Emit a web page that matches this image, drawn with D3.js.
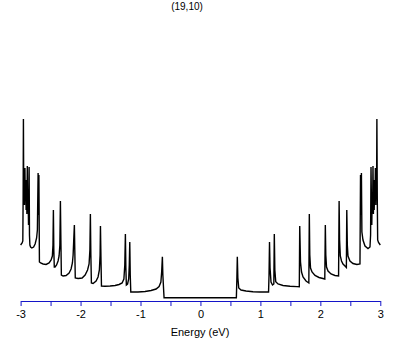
<!DOCTYPE html>
<html>
<head>
<meta charset="utf-8">
<script src="https://cdn.jsdelivr.net/npm/d3@7"></script>
<style>
  body { margin: 0; background: #fff; }
  text { font-family: "Liberation Sans", Arial, sans-serif; }
</style>
</head>
<body>
<div id="chart"></div>
<script>
// chart texts
var title = "(19,10)";
var xLabel = "Energy (eV)";
var xTicks = [-3, -2.5, -2, -1.5, -1, -0.5, 0, 0.5, 1, 1.5, 2, 2.5, 3];
var xLabelTicks = [-3, -2, -1, 0, 1, 2, 3];

// density of states: [energy (eV), DOS (arb.)]
var dosLeft = [
  [-3.00, 5.5], [-2.975, 5.7], [-2.963, 5.9], [-2.958, 10.0], [-2.953, 18.1], [-2.948, 11.0],
  [-2.942, 12.5], [-2.935, 9.5], [-2.928, 13.2], [-2.922, 10], [-2.915, 11.5], [-2.908, 9.0],
  [-2.902, 12], [-2.895, 8.6], [-2.888, 13.4], [-2.882, 9.5], [-2.875, 10.5], [-2.868, 7.5],
  [-2.862, 10], [-2.858, 13.3], [-2.852, 6.5], [-2.845, 5.5], [-2.833, 5.3], [-2.813, 5.2],
  [-2.783, 5.3], [-2.758, 5.6], [-2.733, 6.2], [-2.72, 7.0], [-2.708, 12.7], [-2.701, 8.5],
  [-2.695, 12.5], [-2.686, 3.8], [-2.666, 3.7], [-2.625, 3.6], [-2.575, 3.55], [-2.525, 3.7],
  [-2.491, 4.0], [-2.47, 4.4], [-2.46, 5.5], [-2.453, 9.0], [-2.446, 5.0], [-2.438, 3.3],
  [-2.425, 3.3], [-2.4, 3.5], [-2.375, 3.9], [-2.358, 4.4], [-2.345, 5.5], [-2.336, 9.9],
  [-2.328, 6.0], [-2.32, 2.5], [-2.291, 2.4], [-2.241, 2.45], [-2.191, 2.7], [-2.158, 3.1],
  [-2.136, 3.7], [-2.124, 4.5], [-2.103, 7.5], [-2.096, 5.0], [-2.088, 2.2], [-2.041, 2.15],
  [-1.974, 2.2], [-1.924, 2.5], [-1.883, 3.0], [-1.858, 3.6], [-1.844, 5.0], [-1.836, 8.6],
  [-1.828, 4.5], [-1.819, 1.7], [-1.791, 1.65], [-1.741, 1.9], [-1.708, 2.3], [-1.686, 3.0],
  [-1.674, 4.5], [-1.668, 7.4], [-1.659, 4.0], [-1.651, 1.4], [-1.591, 1.37], [-1.507, 1.4],
  [-1.424, 1.45], [-1.357, 1.55], [-1.307, 1.7], [-1.277, 2.1], [-1.262, 3.5], [-1.252, 6.6],
  [-1.244, 3.2], [-1.236, 1.5], [-1.216, 1.6], [-1.197, 2.1], [-1.187, 3.5], [-1.179, 5.8],
  [-1.171, 2.5], [-1.162, 0.8], [-1.124, 0.8], [-1.041, 0.8], [-0.924, 0.85], [-0.824, 0.95],
  [-0.74, 1.1], [-0.69, 1.35], [-0.66, 1.8], [-0.647, 2.8], [-0.635, 4.33], [-0.627, 2.5],
  [-0.615, 1.1], [-0.607, 0.23]
];

var dosRight = [
  [0.599, 0.23], [0.607, 2.0], [0.615, 4.33], [0.624, 2.2], [0.639, 1.2], [0.677, 1.0],
  [0.76, 0.9], [0.877, 0.83], [0.994, 0.8], [1.136, 0.8], [1.144, 2.5], [1.152, 5.8],
  [1.161, 3.2], [1.177, 1.8], [1.202, 1.5], [1.224, 1.6], [1.232, 6.6], [1.241, 3.0],
  [1.256, 1.83], [1.294, 1.6], [1.377, 1.45], [1.494, 1.37], [1.611, 1.34], [1.649, 1.33],
  [1.656, 7.4], [1.669, 3.8], [1.686, 2.8], [1.711, 2.3], [1.761, 1.9], [1.808, 1.7],
  [1.816, 8.6], [1.824, 4.5], [1.836, 3.2], [1.861, 2.8], [1.911, 2.45], [1.978, 2.25],
  [2.044, 2.15], [2.074, 2.1], [2.083, 7.5], [2.091, 4.5], [2.103, 3.3], [2.128, 2.9],
  [2.178, 2.6], [2.244, 2.45], [2.304, 2.4], [2.313, 9.9], [2.321, 6.0], [2.333, 4.4],
  [2.353, 3.9], [2.378, 3.6], [2.411, 3.4], [2.434, 3.25], [2.441, 9.0], [2.45, 5.5],
  [2.461, 4.4], [2.494, 3.9], [2.544, 3.65], [2.61, 3.55], [2.661, 3.6], [2.67, 12.5],
  [2.677, 8.5], [2.685, 12.7], [2.693, 6.8], [2.711, 6.0], [2.745, 5.4], [2.795, 5.15],
  [2.828, 5.3], [2.838, 6.5], [2.845, 13.3], [2.852, 10], [2.858, 7.5], [2.865, 10.5],
  [2.872, 9.5], [2.878, 13.4], [2.885, 8.6], [2.892, 12], [2.898, 9.0], [2.905, 11.5],
  [2.912, 10], [2.918, 13.2], [2.925, 9.5], [2.932, 12.5], [2.938, 11], [2.943, 18.1],
  [2.95, 10], [2.956, 6.0], [2.97, 5.75], [3.0, 5.5]
];

var svgWidth = 409;
var svgHeight = 345;

var svg = d3.select("#chart")
  .append("svg")
  .attr("width", svgWidth)
  .attr("height", svgHeight);

// scales
var xScale = d3.scaleLinear()
  .domain([-3, 3])
  .range([20.6, 380.3]);

var yScale = d3.scaleLinear()
  .domain([0, 18])
  .range([300, 120]);

// curve
var line = d3.line()
  .x(d => xScale(d[0]))
  .y(d => yScale(d[1]));

svg.append("path")
  .datum(dosLeft.concat(dosRight))
  .attr("fill", "none")
  .attr("stroke", "#000")
  .attr("stroke-width", 1.4)
  .attr("stroke-linejoin", "miter")
  .attr("d", line);

// x axis
var xAxis = d3.axisBottom(xScale)
  .tickValues(xTicks)
  .tickSize(5)
  .tickSizeOuter(0)
  .tickFormat(d => xLabelTicks.indexOf(d) >= 0 ? String(d) : "");

var axisG = svg.append("g")
  .attr("transform", "translate(0,301)")
  .call(xAxis);

axisG.select(".domain").attr("stroke", "#1414c8").attr("stroke-width", 1);
axisG.selectAll(".tick line").attr("stroke", "#1414c8");
axisG.selectAll(".tick text")
  .attr("fill", "#000")
  .attr("font-size", "11px")
  .attr("font-family", "Liberation Sans, Arial, sans-serif")
  .attr("y", 9);

// labels
svg.append("text")
  .attr("x", 200)
  .attr("y", 336)
  .attr("text-anchor", "middle")
  .attr("font-size", "11px")
  .text(xLabel);

svg.append("text")
  .attr("x", 187)
  .attr("y", 10)
  .attr("text-anchor", "middle")
  .attr("font-size", "10px")
  .text(title);
</script>
</body>
</html>
